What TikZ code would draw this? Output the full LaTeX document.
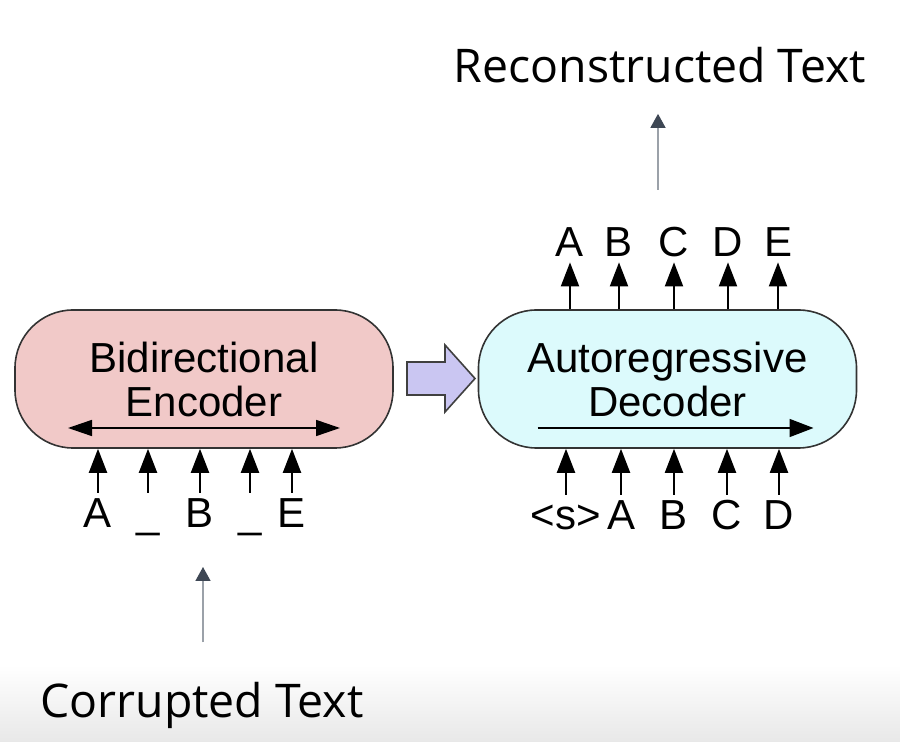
\documentclass[tikz,border=0pt]{standalone}
\usepackage{fontspec}
\setmainfont{Liberation Sans}
\newfontfamily\titlefont{Open Sans}
\usetikzlibrary{arrows.meta,positioning,calc}

\definecolor{encfill}{HTML}{F1C9C8}
\definecolor{decfill}{HTML}{DCFAFC}
\definecolor{flowfill}{HTML}{CAC6F2}
\definecolor{hintgray}{HTML}{9BA1A9}
\definecolor{hinthead}{HTML}{3E4754}

\tikzset{
  block/.style={draw=black!80,line width=0.8pt,rounded corners=29pt,
    minimum width=189pt,minimum height=69pt,align=center,
    font=\fontsize{21}{22}\selectfont},
  token/.style={font=\fontsize{21}{22}\selectfont,text height=15pt,
    text depth=0pt,inner sep=2.5pt,anchor=base},
  feed/.style={-{Triangle[length=12pt,width=9pt]},line width=1pt},
  inner/.style={line width=0.8pt},
  hint/.style={-{Triangle[length=7pt,width=7.5pt,color=hinthead,fill=hinthead]},
    draw=hintgray,line width=0.75pt},
  title/.style={font=\titlefont\fontsize{23.2}{25}\selectfont,inner sep=0pt,anchor=base},
  flow/.style={fill=flowfill,draw=black!75,line width=0.8pt,line join=miter}
}

\begin{document}
\begin{tikzpicture}[x=0.5pt,y=-0.5pt]
  \useasboundingbox (0,0) rectangle (900,742);
  % bottom band of the frame
  \fill[top color=white,bottom color=black!9] (0,665) rectangle (900,742);

  % the two blocks
  \node[block,fill=encfill] (enc) at (204,379) {Bidirectional\\Encoder};
  \node[block,fill=decfill] (dec) at (667.5,379) {Autoregressive\\Decoder};
  \draw[inner,{Triangle[length=12pt,width=8pt]}-{Triangle[length=12pt,width=8pt]}]
    ($(enc.center)+(-136,49)$) -- ($(enc.center)+(136,49)$);
  \draw[inner,-{Triangle[length=12pt,width=9pt]}]
    ($(dec.center)+(-130,49)$) -- ($(dec.center)+(146,49)$);

  % hand-over arrow
  \draw[flow] (407,362) -- (445,362) -- (445,345) -- (475,378.5)
    -- (445,412) -- (445,395) -- (407,395) -- cycle;

  % encoder inputs
  \foreach \x/\t [count=\i] in {98/A,148/\_,200/B,250/\_,292/E}{
    \node[token] (e\i) at (\x,528) {\t};
    \draw[feed] (e\i.north) -- (e\i.north |- enc.south);
  }
  % decoder inputs
  \foreach \x/\t [count=\i] in {566/\textless s\textgreater,621/A,674/B,727/C,779/D}{
    \node[token] (d\i) at (\x,530) {\t};
    \draw[feed] (d\i.north) -- (d\i.north |- dec.south);
  }
  % decoder outputs
  \foreach \x/\t [count=\i] in {570/A,619/B,674/C,728/D,778/E}{
    \node[token] (o\i) at (\x,257) {\t};
    \draw[feed] (o\i.south |- dec.north) -- (o\i.south);
  }

  % captions
  \node[title] (rec) at (660,83) {Reconstructed Text};
  \coordinate (recfoot) at (658,190);
  \draw[hint,shorten >=15pt] (recfoot) -- (recfoot |- rec.south);
  \node[title] (cor) at (202,718) {Corrupted Text};
  \coordinate (corhead) at (203,567);
  \draw[hint,shorten <=20pt] (corhead |- cor.north) -- (corhead);
\end{tikzpicture}
\end{document}
